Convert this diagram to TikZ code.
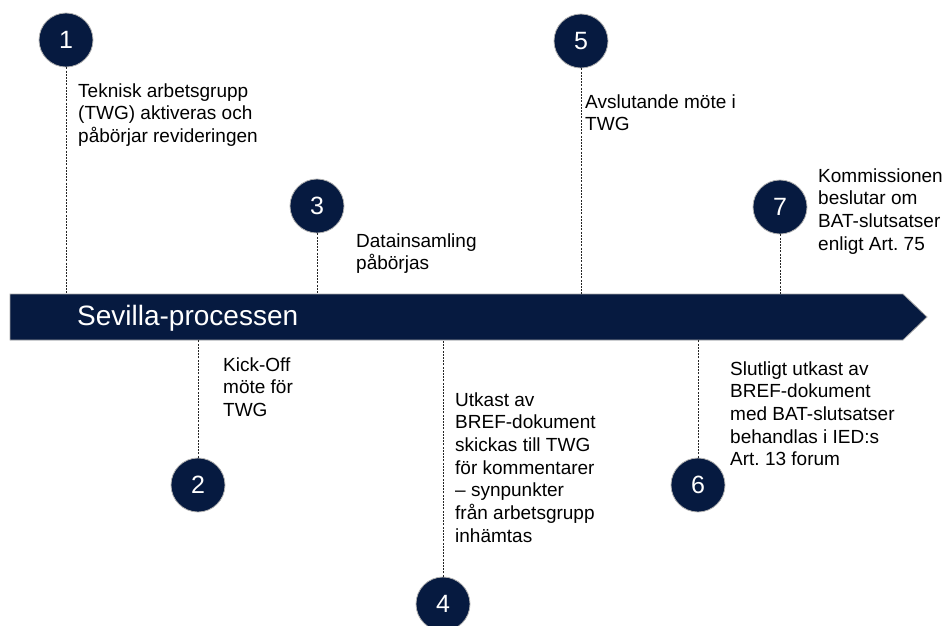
\documentclass[tikz,border=0pt]{standalone}
\usepackage{fontspec}
\setmainfont{Liberation Sans}
\usetikzlibrary{positioning}
\definecolor{sevnavy}{HTML}{061A40}
\frenchspacing

\begin{document}
\begin{tikzpicture}[x=1pt,y=-1pt,
    num/.style={circle, fill=sevnavy, draw=gray!60, line width=0.8pt,
      minimum size=54pt, inner sep=0pt, text=white,
      font=\fontsize{25}{30}\selectfont},
    txt/.style={anchor=base west, align=left, inner sep=0pt,
      font=\fontsize{19}{22.7}\selectfont},
    dotline/.style={draw=black!85, line width=0.8pt, dash pattern=on 2pt off 1.2pt}]
  \useasboundingbox (0,0) rectangle (945,625);

  % the arrow bar
  \filldraw[fill=sevnavy, draw=gray!70, line width=0.8pt]
    (10,294) -- (903,294) -- (927,317) -- (903,340) -- (10,340) -- cycle;
  \coordinate (bartop) at (10,294);
  \coordinate (barbot) at (10,340);
  \node[txt, text=white, font=\fontsize{28}{34}\selectfont] (title) at (77,325) {Sevilla-processen};

  % the numbered steps
  \node[num] (n1) at (66,40) {1};
  \node[num] (n2) at (198,485) {2};
  \node[num] (n3) at (317,206) {3};
  \node[num] (n4) at (443,604) {4};
  \node[num] (n5) at (581,41) {5};
  \node[num] (n6) at (698,485) {6};
  \node[num] (n7) at (780,207) {7};

  % the dotted ticks
  \foreach \n in {n1,n3,n5,n7}
    \draw[dotline] (\n) -- (\n |- bartop);
  \foreach \n in {n2,n4,n6}
    \draw[dotline] (\n) -- (\n |- barbot);

  % the texts (placed at the baseline of their last line)
  \node[txt] (t1) at (78,142.4) {Teknisk arbetsgrupp\\(TWG) aktiveras och\\påbörjar revideringen};
  \node[txt] (t2) at (223,416.4) {Kick-Off\\möte för\\TWG};
  \node[txt] (t3) at (356,269.7) {Datainsamling\\påbörjas};
  \node[txt] (t4) at (455,542.2) {Utkast av\\BREF-dokument\\skickas till TWG\\för kommentarer\\– synpunkter\\från arbetsgrupp\\inhämtas};
  \node[txt] (t5) at (585,130.7) {Avslutande möte i\\TWG};
  \node[txt] (t6) at (730,465.8) {Slutligt utkast av\\BREF-dokument\\med BAT-slutsatser\\behandlas i IED:s\\Art. 13 forum};
  \node[txt] (t7) at (818,250.1) {Kommissionen\\beslutar om\\BAT-slutsatser\\enligt Art. 75};
\end{tikzpicture}
\end{document}
